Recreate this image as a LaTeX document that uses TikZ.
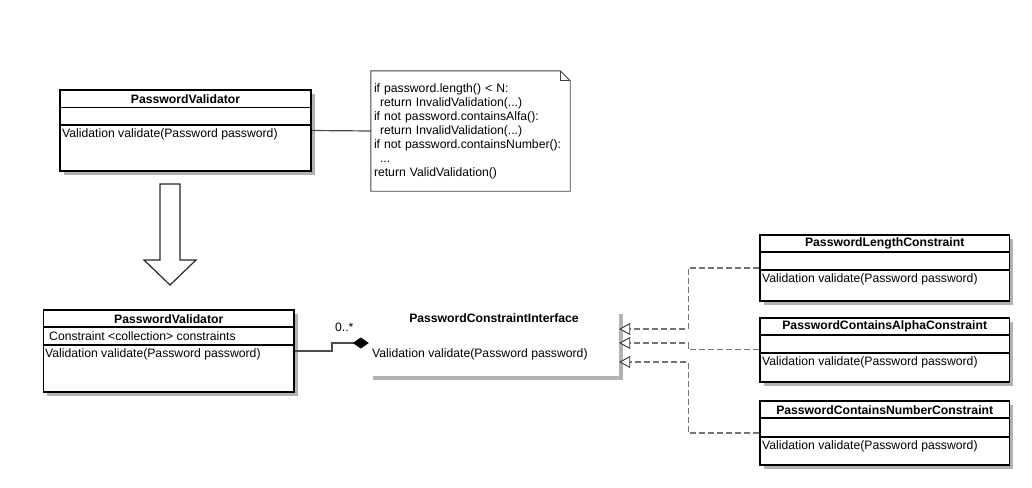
\documentclass[tikz,border=0pt]{standalone}
\usepackage{fontspec}
\setmainfont{Liberation Sans}
\usetikzlibrary{arrows.meta,shadows}

\tikzset{
  umlclass/.style={draw, line width=1.7pt, fill=white, inner sep=0pt,
    drop shadow={shadow xshift=4pt, shadow yshift=-4pt, fill=black!30, opacity=1}},
  umlface/.style={fill=white, inner sep=0pt,
    drop shadow={shadow xshift=4pt, shadow yshift=-4pt, fill=black!30, opacity=1}},
  classrule/.style={line width=1.7pt},
  classname/.style={font=\bfseries, inner sep=0pt},
  member/.style={anchor=west, inner sep=0pt},
  realizes/.style={draw=black!55, line width=1.4pt, dash pattern=on 6pt off 3pt,
    -{Triangle[open, length=11pt, width=12pt, line width=0.9pt, color=black!80, fill=white]}},
}

\begin{document}
\fontsize{12.2}{14}\selectfont
\begin{tikzpicture}[x=1pt, y=-1pt]
  \useasboundingbox (0,0) rectangle (1032,487);

  % before
  \node[umlclass, minimum width=251pt, minimum height=81pt] (pvOld) at (185.5,130.5) {};
  \draw[classrule] (pvOld.west |- 0,107.5) -- (pvOld.east |- 0,107.5);
  \draw[classrule] (pvOld.west |- 0,125) -- (pvOld.east |- 0,125);
  \node[classname] (pvOldName) at (185.5,98.8) {PasswordValidator};
  \node[member] (pvOldOp) at (62,134) {Validation validate(Password password)};

  \node[text width=193pt, align=left, inner sep=3pt, minimum height=120pt] (note) at (470.5,131)
    {if password.length() < N:\\
     \hspace*{6pt}return InvalidValidation(...)\\
     if not password.containsAlfa():\\
     \hspace*{6pt}return InvalidValidation(...)\\
     if not password.containsNumber():\\
     \hspace*{6pt}...\\
     return ValidValidation()};
  \draw[black!75, line width=0.9pt] (note.north west) -- ([xshift=-10pt]note.north east)
    -- ([yshift=-10pt]note.north east) -- (note.south east) -- (note.south west) -- cycle;
  \draw[black!75, line width=0.9pt] ([xshift=-10pt]note.north east)
    -- ([xshift=-10pt,yshift=-10pt]note.north east) -- ([yshift=-10pt]note.north east);

  \draw[black!85, line width=1.2pt, fill=white] (160,184) -- (180,184) -- (180,260) -- (196,260)
    -- (170,285) -- (144,260) -- (160,260) -- cycle;

  % after
  \node[umlclass, minimum width=250.7pt, minimum height=82pt] (pvNew) at (168.7,351) {};
  \draw[classrule] (pvNew.west |- 0,327.3) -- (pvNew.east |- 0,327.3);
  \draw[classrule] (pvNew.west |- 0,345.3) -- (pvNew.east |- 0,345.3);
  \node[classname] (pvNewName) at (168.7,318.7) {PasswordValidator};
  \node[member] (pvNewAttr) at (49,336) {Constraint <collection> constraints};
  \node[member] (pvNewOp) at (45,354) {Validation validate(Password password)};

  \node[umlface, minimum width=250pt, minimum height=66pt] (iface) at (494,343) {};
  \node[classname] (ifaceName) at (494,318.5) {PasswordConstraintInterface};
  \node[member] (ifaceOp) at (372,354) {Validation validate(Password password)};

  \node[umlclass, minimum width=249.3pt, minimum height=66pt] (lenC) at (884.7,268) {};
  \draw[classrule] (lenC.west |- 0,252.3) -- (lenC.east |- 0,252.3);
  \draw[classrule] (lenC.west |- 0,270) -- (lenC.east |- 0,270);
  \node[classname] (lenCName) at (884.7,243.7) {PasswordLengthConstraint};
  \node[member] (lenCOp) at (762,279) {Validation validate(Password password)};

  \node[umlclass, minimum width=249.3pt, minimum height=64pt] (alphaC) at (884.7,349.7) {};
  \draw[classrule] (alphaC.west |- 0,335) -- (alphaC.east |- 0,335);
  \draw[classrule] (alphaC.west |- 0,353) -- (alphaC.east |- 0,353);
  \node[classname] (alphaCName) at (884.7,326.3) {PasswordContainsAlphaConstraint};
  \node[member] (alphaCOp) at (762,362) {Validation validate(Password password)};

  \node[umlclass, minimum width=249.3pt, minimum height=64pt] (numC) at (884.7,433) {};
  \draw[classrule] (numC.west |- 0,418.3) -- (numC.east |- 0,418.3);
  \draw[classrule] (numC.west |- 0,436.7) -- (numC.east |- 0,436.7);
  \node[classname] (numCName) at (884.7,409.7) {PasswordContainsNumberConstraint};
  \node[member] (numCOp) at (762,446) {Validation validate(Password password)};

  % links
  \draw[black!70, line width=1.2pt] (pvOld.east) -- (note.west);
  \draw[black!70, line width=1.3pt, -{Diamond[length=16pt, width=11pt, black]}]
    (pvNew.east) -- ++(37,0) |- (iface.west);
  \node (many) at ([shift={(-24.5pt,16pt)}]iface.west) {0..*};
  \draw[realizes] (lenC.west) -- ++(-71,0) |- ([yshift=14pt]iface.east);
  \draw[realizes] (alphaC.west) -- ++(-71,0) |- (iface.east);
  \draw[realizes] (numC.west) -- ++(-71,0) |- ([yshift=-19pt]iface.east);
\end{tikzpicture}
\end{document}
